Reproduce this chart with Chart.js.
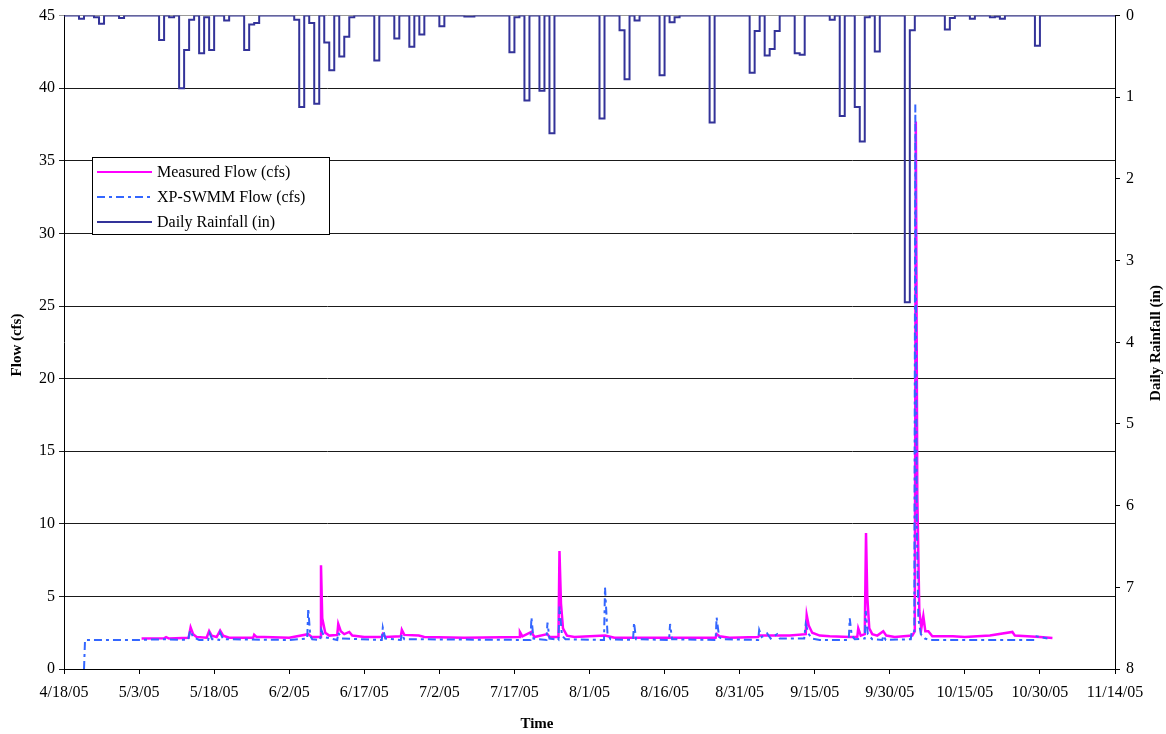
<!DOCTYPE html>
<html>
<head>
<meta charset="utf-8">
<script src="https://cdn.jsdelivr.net/npm/chart.js@4"></script>
<style>
  html, body { margin: 0; padding: 0; background: #fff; }
  #wrap { width: 1166px; height: 734px; }
</style>
</head>
<body>
<div id="wrap"><canvas id="myChart" width="1166" height="734"></canvas></div>
<script>
// x axis is days since 4/18/05, ticks every 15 days
const dateTicks = ["4/18/05", "5/3/05", "5/18/05", "6/2/05", "6/17/05", "7/2/05", "7/17/05", "8/1/05",
    "8/16/05", "8/31/05", "9/15/05", "9/30/05", "10/15/05", "10/30/05", "11/14/05"];

// Daily rainfall (in), one value per day starting 4/18/05
const rainIn = [
    0, 0, 0, 0.04, 0, 0, 0.02, 0.10, 0, 0,
    0, 0.03, 0, 0, 0, 0, 0, 0, 0, 0.30,
    0, 0.02, 0, 0.89, 0.42, 0.05, 0, 0.46, 0.02, 0.42,
    0, 0, 0.06, 0, 0, 0, 0.42, 0.11, 0.09, 0,
    0, 0, 0, 0, 0, 0, 0.05, 1.12, 0, 0.09,
    1.08, 0, 0.33, 0.67, 0, 0.50, 0.26, 0.02, 0, 0,
    0, 0, 0.55, 0, 0, 0, 0.28, 0, 0, 0.38,
    0, 0.23, 0, 0, 0, 0.13, 0, 0, 0, 0,
    0.01, 0.01, 0, 0, 0, 0, 0, 0, 0, 0.45,
    0.02, 0, 1.04, 0, 0, 0.92, 0, 1.44, 0, 0,
    0, 0, 0, 0, 0, 0, 0, 1.26, 0, 0,
    0, 0.18, 0.78, 0, 0.06, 0, 0, 0, 0, 0.73,
    0, 0.08, 0.02, 0, 0, 0, 0, 0, 0, 1.31,
    0, 0, 0, 0, 0, 0, 0, 0.70, 0.19, 0,
    0.49, 0.41, 0.19, 0, 0, 0, 0.46, 0.48, 0, 0,
    0, 0, 0, 0.05, 0, 1.23, 0, 0, 1.12, 1.54,
    0.02, 0, 0.44, 0, 0, 0, 0, 0, 3.51, 0.18,
    0, 0, 0, 0, 0, 0, 0.17, 0.03, 0, 0,
    0, 0.04, 0, 0, 0, 0.02, 0.01, 0.04, 0, 0,
    0, 0, 0, 0, 0.37, 0, 0, 0, 0, 0,
    0, 0, 0, 0, 0, 0, 0, 0, 0, 0,
    0
];

// Measured flow (cfs): day, value
const measuredDay = [15.5, 20, 20.4, 21, 24.9, 25.3, 25.8, 26.5, 28.5, 29.0, 29.5, 30.5, 31.2, 31.8, 33,
    37.8, 38.0, 38.5, 40, 45, 48.8, 49.5, 51.2, 51.35, 51.6, 52.2, 53, 54.6, 54.8, 55.3, 56, 57, 57.6, 60,
    63.5, 63.7, 64.2, 67.3, 67.5, 68, 70.9, 72, 80, 91, 91.1, 91.6, 93.4, 94, 96.6, 97, 98.8, 99.0, 99.3,
    99.7, 100.5, 102, 108.1, 110, 130.2, 130.4, 131, 133, 138.7, 138.9, 140, 145, 148.2, 148.4, 148.8,
    149.5, 151, 153, 157, 158.5, 158.7, 159.2, 160.0, 160.25, 160.5, 160.9, 161.5, 162.5, 163.7, 164.3,
    166, 169.5, 170.0, 170.2, 170.5, 170.9, 171.3, 171.7, 172.1, 172.7, 173.5, 177.6, 180, 185, 189.5,
    190, 195, 197.5];
const measuredCfs = [2.1, 2.12, 2.2, 2.1, 2.15, 2.87, 2.4, 2.2, 2.15, 2.62, 2.3, 2.2, 2.65, 2.3, 2.15,
    2.15, 2.36, 2.2, 2.2, 2.15, 2.4, 2.2, 2.2, 7.14, 3.5, 2.5, 2.3, 2.35, 3.1, 2.6, 2.4, 2.55, 2.3, 2.2,
    2.2, 2.4, 2.2, 2.25, 2.7, 2.35, 2.3, 2.2, 2.15, 2.2, 2.55, 2.25, 2.55, 2.2, 2.4, 2.2, 2.2, 8.12, 4.5,
    2.8, 2.3, 2.2, 2.3, 2.15, 2.15, 2.4, 2.25, 2.15, 2.2, 2.3, 2.3, 2.3, 2.4, 3.72, 3.0,
    2.5, 2.3, 2.25, 2.2, 2.2, 2.8, 2.3, 2.4, 9.36, 5.0, 2.8, 2.4, 2.3, 2.6, 2.3,
    2.2, 2.3, 2.6, 37.7, 12, 4.0, 2.8, 3.65, 2.6, 2.6, 2.25, 2.25, 2.2, 2.3, 2.55,
    2.3, 2.2, 2.13];

// XP-SWMM modelled flow (cfs): day, value
const modelDay = [4.0, 4.2, 15, 20, 24.8, 25.2, 25.8, 27, 28.8, 29.1, 29.6, 31, 31.2, 31.8, 45, 48.6,
    48.8, 49.2, 49.6, 51.2, 51.4, 52, 54.6, 54.8, 55.5, 63.5, 63.7, 64.2, 67.3, 67.5, 68, 93.2, 93.4, 93.8,
    96.4, 96.6, 97, 98.8, 99.0, 99.5, 100.2, 107.9, 108.1, 108.6, 109.2, 113.7, 113.9, 114.3, 120.9,
    121.1, 121.5, 130.2, 130.4, 130.9, 131.5, 138.7, 138.9, 139.4, 140.5, 141.2, 142.5, 143, 147.9,
    148.2, 148.8, 149.5, 151, 156.8, 157, 157.4, 158, 160.0, 160.2, 160.6, 161.5, 163.5, 163.7, 164.2,
    169.2, 169.4, 169.9, 170.1, 170.4, 170.7, 171.2, 172, 173, 194, 194.3, 196.5];
const modelCfs = [0, 2.0, 2.0, 2.05, 2.0, 2.65, 2.2, 2.0, 2.0, 2.45, 2.05, 2.0, 2.5, 2.05, 2.0, 2.1,
    4.18, 2.3, 2.05, 2.0, 2.7, 2.2, 2.0, 2.5, 2.1, 2.0, 2.85, 2.1, 2.0, 2.4, 2.05, 2.0, 3.55, 2.1,
    2.0, 3.2, 2.1, 2.0, 4.3, 2.3, 2.05, 2.0, 5.62, 2.4, 2.05, 2.0, 3.2, 2.05, 2.0,
    3.1, 2.05, 2.0, 3.55, 2.2, 2.05, 2.0, 2.7, 2.2, 2.45, 2.1, 2.4, 2.1, 2.1,
    3.1, 2.4, 2.1, 2.0, 2.0, 3.49, 2.3, 2.05, 2.1, 4.0, 2.4, 2.05, 2.0, 2.3, 2.0,
    2.05, 2.65, 2.6, 38.9, 10, 3.5, 2.4, 2.1, 2.0, 2.0, 2.25, 2.1];

const serif = '"Liberation Serif", "Times New Roman", serif';

function pairs(xs, ys) {
    return xs.map((x, i) => ({ x: x, y: ys[i] }));
}

// axis titles and the boxed legend, drawn on top
const extras = {
    id: 'extras',
    afterDraw(chart) {
        const ctx = chart.ctx;
        ctx.save();
        ctx.fillStyle = '#000';
        ctx.textAlign = 'center';
        ctx.textBaseline = 'middle';
        ctx.font = 'bold 15px ' + serif;
        ctx.fillText('Time', 537, 724);

        ctx.save();
        ctx.translate(17, 345);
        ctx.rotate(-Math.PI / 2);
        ctx.fillText('Flow (cfs)', 0, 0);
        ctx.restore();

        ctx.save();
        ctx.translate(1156, 343);
        ctx.rotate(-Math.PI / 2);
        ctx.fillText('Daily Rainfall (in)', 0, 0);
        ctx.restore();

        // legend box
        const bx = 92, by = 157, bw = 237, bh = 77;
        ctx.fillStyle = '#fff';
        ctx.fillRect(bx, by, bw, bh);
        ctx.strokeStyle = '#000';
        ctx.lineWidth = 1;
        ctx.strokeRect(bx + 0.5, by + 0.5, bw, bh);

        ctx.font = '16px ' + serif;
        ctx.textAlign = 'left';
        const items = [0, 1, 2];
        items.forEach((i, k) => {
            const ds = chart.data.datasets[i];
            const y = by + 15 + k * 25;
            ctx.beginPath();
            ctx.strokeStyle = ds.borderColor;
            ctx.lineWidth = 2;
            ctx.setLineDash(ds.borderDash || []);
            ctx.moveTo(97, y);
            ctx.lineTo(152, y);
            ctx.stroke();
            ctx.setLineDash([]);
            ctx.fillStyle = '#000';
            ctx.fillText(ds.label, 157, y + 1);
        });
        ctx.restore();
    }
};

new Chart("myChart", {
    type: "line",
    data: {
        datasets: [{
            label: "Measured Flow (cfs)",
            data: pairs(measuredDay, measuredCfs),
            borderColor: "#ff00ff",
            borderWidth: 2.5,
            yAxisID: "y",
            order: 1
        }, {
            label: "XP-SWMM Flow (cfs)",
            data: pairs(modelDay, modelCfs),
            borderColor: "#3366ff",
            borderWidth: 2,
            borderDash: [8, 4, 3, 4],
            yAxisID: "y",
            order: 0
        }, {
            label: "Daily Rainfall (in)",
            data: rainIn.map((v, i) => ({ x: i, y: v })),
            borderColor: "#333399",
            borderWidth: 2,
            stepped: true,
            yAxisID: "y2",
            order: 2
        }]
    },
    options: {
        responsive: false,
        animation: false,
        events: [],
        layout: { padding: { top: 15, left: 0, right: 0, bottom: 0 } },
        elements: { point: { radius: 0 }, line: { tension: 0 } },
        plugins: { legend: { display: false }, tooltip: { enabled: false } },
        scales: {
            x: {
                type: "linear",
                min: 0,
                max: 210,
                afterFit: (s) => { s.height = 65; },
                ticks: {
                    stepSize: 15,
                    autoSkip: false,
                    maxRotation: 0,
                    padding: 9,
                    color: "#000",
                    font: { family: serif, size: 16 },
                    callback: (v) => dateTicks[Math.round(v / 15)]
                },
                grid: { drawOnChartArea: false, tickLength: 5, color: "#000" },
                border: { color: "#000", width: 1 }
            },
            y: {
                position: "left",
                min: 0,
                max: 45,
                afterFit: (s) => { s.width = 64; },
                ticks: {
                    stepSize: 5,
                    padding: 4,
                    color: "#000",
                    font: { family: serif, size: 16 }
                },
                grid: {
                    tickLength: 5,
                    lineWidth: 1,
                    color: (c) => c.tick && c.tick.value === 45 ? "#999" : "#1a1a1a"
                },
                border: { color: "#000", width: 1 }
            },
            y2: {
                position: "right",
                reverse: true,
                min: 0,
                max: 8,
                afterFit: (s) => { s.width = 51; },
                ticks: {
                    stepSize: 1,
                    padding: 6,
                    color: "#000",
                    font: { family: serif, size: 16 }
                },
                grid: { drawOnChartArea: false, tickLength: 5, color: "#000" },
                border: { color: "#000", width: 1 }
            }
        }
    },
    plugins: [extras]
});
</script>
</body>
</html>
